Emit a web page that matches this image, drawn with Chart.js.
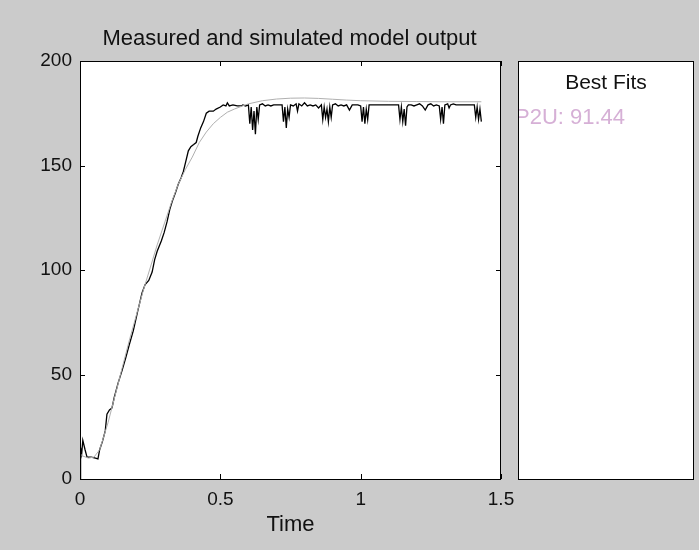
<!DOCTYPE html>
<html>
<head>
<meta charset="utf-8">
<script src="https://cdn.jsdelivr.net/npm/chart.js@4/dist/chart.umd.min.js"></script>
<style>
  html, body { margin: 0; padding: 0; background: #cbcbcb; }
  #wrap { width: 699px; height: 550px; }
</style>
</head>
<body>
<div id="wrap"><canvas id="myChart" width="699" height="550"></canvas></div>
<script>
// measured output (black)
const measuredTime = [
  0, 0.002, 0.006, 0.01, 0.018, 0.025, 0.04, 0.055, 0.064, 0.07, 0.08, 0.09, 0.096, 0.105, 0.114, 0.122,
  0.136, 0.15, 0.163, 0.175, 0.19, 0.205, 0.214, 0.221, 0.232, 0.245, 0.257, 0.266, 0.275, 0.29, 0.3,
  0.31, 0.32, 0.329, 0.34, 0.35, 0.36, 0.368, 0.377, 0.386, 0.395, 0.405, 0.414, 0.42, 0.43, 0.44,
  0.45, 0.46, 0.475, 0.485, 0.5, 0.51, 0.52, 0.525, 0.532, 0.545, 0.56, 0.575,
  0.58, 0.59, 0.6, 0.605, 0.61, 0.615, 0.62, 0.625, 0.63, 0.635, 0.64, 0.65, 0.66, 0.67, 0.68, 0.69,
  0.7, 0.71, 0.72, 0.725, 0.73, 0.735, 0.74, 0.745, 0.75, 0.76, 0.77, 0.775, 0.78, 0.79, 0.8, 0.81,
  0.82, 0.83, 0.84, 0.85, 0.86, 0.865, 0.87, 0.875, 0.88, 0.885, 0.89, 0.895, 0.9, 0.91, 0.92, 0.93,
  0.94, 0.95, 0.96, 0.97, 0.98, 0.99, 1.0, 1.005, 1.01, 1.015, 1.02, 1.025, 1.03, 1.04, 1.06, 1.08,
  1.1, 1.12, 1.135, 1.14, 1.145, 1.15, 1.155, 1.16, 1.165, 1.17, 1.18, 1.19, 1.2, 1.21, 1.22, 1.23,
  1.24, 1.25, 1.26, 1.27, 1.28, 1.285, 1.29, 1.295, 1.3, 1.31, 1.315, 1.32, 1.33, 1.34, 1.36, 1.38,
  1.4, 1.405, 1.41, 1.415, 1.42, 1.425, 1.43
];
const measuredOutput = [
  0, 15, 12, 18.5, 14, 10.5, 10.5, 10, 9.6, 14, 18, 23, 31, 33, 34, 39,
  46, 52, 58, 64, 71, 80, 85, 89, 93, 95, 99, 105, 109, 114, 118,
  123, 129, 133, 137, 141, 144, 147, 152, 157, 159, 160, 161, 164, 168, 171,
  175, 176, 176, 177, 178, 179, 178.5, 180, 178.5, 179, 178.5, 178.5,
  179, 178.5, 179, 170, 178, 167, 176, 165, 178, 172, 179, 179.5, 178.5, 179, 178.5, 179,
  179, 179, 179, 171, 178, 168, 177, 173, 179, 178.5, 179.5, 176, 179.5, 178.5, 180, 178.5,
  179, 178.5, 179, 177.5, 179, 172, 178, 173, 177, 171, 178, 173, 179, 179.5, 178.5, 179,
  178.5, 179, 176.5, 179, 179, 179, 178.5, 171, 178, 170, 177, 172, 179, 179, 179, 179,
  179, 179, 179, 172, 178, 171, 177, 169, 178, 179, 179, 178.5, 179, 179.5, 178.5, 176.5,
  179, 179.5, 178.5, 179, 178.5, 172, 178, 170, 179, 179.5, 177.5, 179, 179.5, 179, 179, 179,
  179, 179, 173, 178, 172, 177, 171
];

// simulated model output (grey)
const simulatedTime = [
  0, 0.01, 0.03, 0.05, 0.07, 0.1, 0.125, 0.15, 0.175, 0.2, 0.225, 0.25, 0.275, 0.3, 0.325, 0.35,
  0.375, 0.4, 0.425, 0.45, 0.475, 0.5, 0.525, 0.55, 0.575, 0.6, 0.65, 0.7, 0.75, 0.8, 0.85, 0.9,
  0.95, 1.0, 1.1, 1.2, 1.3, 1.43
];
const simulatedOutput = [
  12, 11, 10, 10.5, 14, 27, 40, 53, 66, 78, 90, 101, 112, 122, 132, 141,
  148, 154, 161, 166, 170, 173, 175.5, 177, 178.3, 179.5, 181, 181.8, 182.2, 182.3, 182.1, 181.7,
  181.3, 181, 180.7, 180.6, 180.5, 180.5
];

const xTicks = [0, 0.5, 1, 1.5];
const yTicks = [0, 50, 100, 150, 200];
const chartTitle = 'Measured and simulated model output';
const xLabel = 'Time';
const fitsTitle = 'Best Fits';
const fitsEntry = 'P2U: 91.44';

const FONT = '"Liberation Sans", Arial, sans-serif';

const toPoints = (ts, ys) => ts.map((t, i) => ({ x: t, y: ys[i] }));

// box, inward ticks, title and the "Best Fits" panel like a matlab figure
const frame = {
    id: 'frame',
    afterDraw(chart) {
        const { ctx, chartArea: a, scales } = chart;
        const tl = 5;
        ctx.save();
        ctx.strokeStyle = '#000';
        ctx.lineWidth = 1;
        ctx.beginPath();
        xTicks.forEach(v => {
            const px = Math.round(scales.x.getPixelForValue(v)) + 0.5;
            ctx.moveTo(px, a.bottom); ctx.lineTo(px, a.bottom - tl);
            ctx.moveTo(px, a.top); ctx.lineTo(px, a.top + tl);
        });
        yTicks.forEach(v => {
            const py = Math.round(scales.y.getPixelForValue(v)) + 0.5;
            ctx.moveTo(a.left, py); ctx.lineTo(a.left + tl, py);
            ctx.moveTo(a.right, py); ctx.lineTo(a.right - tl, py);
        });
        ctx.stroke();
        ctx.strokeRect(a.left + 0.5, a.top + 0.5, a.right - a.left - 1, a.bottom - a.top);

        ctx.fillStyle = '#111';
        ctx.font = '22px ' + FONT;
        ctx.textAlign = 'center';
        ctx.textBaseline = 'middle';
        ctx.fillText(chartTitle, (a.left + a.right) / 2 - 1, 39);

        // fits panel
        const p = { left: 518, top: 61, right: 694, bottom: a.bottom };
        ctx.fillStyle = '#fff';
        ctx.fillRect(p.left, p.top, p.right - p.left, p.bottom - p.top);
        ctx.strokeRect(p.left + 0.5, p.top + 0.5, p.right - p.left - 1, p.bottom - p.top);
        ctx.fillStyle = '#111';
        ctx.font = '21px ' + FONT;
        ctx.fillText(fitsTitle, (p.left + p.right) / 2, 83);
        ctx.save();
        ctx.beginPath();
        ctx.rect(p.left + 1, p.top, p.right - p.left - 2, p.bottom - p.top);
        ctx.clip();
        ctx.fillStyle = '#d6b0d6';
        ctx.textAlign = 'left';
        ctx.font = '22px ' + FONT;
        ctx.fillText(fitsEntry, p.left - 3, 118);
        ctx.restore();
        ctx.restore();
    }
};

const ctx = document.getElementById('myChart').getContext('2d');

const myChart = new Chart(ctx, {
    type: 'line',
    data: {
        datasets: [{
            label: 'Simulated',
            data: toPoints(simulatedTime, simulatedOutput),
            borderColor: '#b0b0b0',
            borderWidth: 1,
            pointRadius: 0,
            tension: 0
        }, {
            label: 'Measured',
            data: toPoints(measuredTime, measuredOutput),
            borderColor: '#000',
            borderWidth: 1.3,
            pointRadius: 0,
            tension: 0
        }]
    },
    plugins: [frame, {
        id: 'bg',
        beforeDraw(chart) {
            const { ctx, chartArea: a } = chart;
            ctx.save();
            ctx.fillStyle = '#cbcbcb';
            ctx.fillRect(0, 0, chart.width, chart.height);
            ctx.fillStyle = '#fff';
            ctx.fillRect(a.left, a.top, a.right - a.left, a.bottom - a.top);
            ctx.restore();
        }
    }],
    options: {
        responsive: false,
        animation: false,
        layout: {
            padding: { left: 0, top: 61, right: 198, bottom: 0 }
        },
        plugins: {
            legend: { display: false },
            tooltip: { enabled: false },
            title: { display: false }
        },
        scales: {
            x: {
                type: 'linear',
                min: 0,
                max: 1.5,
                afterFit: s => { s.height = 71; },
                afterBuildTicks: s => { s.ticks = xTicks.map(v => ({ value: v })); },
                grid: { display: false, drawTicks: false },
                border: { display: false },
                ticks: {
                    color: '#111',
                    padding: 9,
                    maxRotation: 0,
                    font: { family: FONT, size: 19 },
                    callback: v => String(v)
                },
                title: {
                    display: true,
                    text: xLabel,
                    color: '#111',
                    font: { family: FONT, size: 22 },
                    padding: { top: 0, bottom: 12 }
                }
            },
            y: {
                min: 0,
                max: 200,
                afterFit: s => { s.width = 80; },
                afterBuildTicks: s => { s.ticks = yTicks.map(v => ({ value: v })); },
                grid: { display: false, drawTicks: false },
                border: { display: false },
                ticks: {
                    color: '#111',
                    padding: 8,
                    font: { family: FONT, size: 19 },
                    callback: v => String(v)
                }
            }
        }
    }
});
</script>
</body>
</html>
